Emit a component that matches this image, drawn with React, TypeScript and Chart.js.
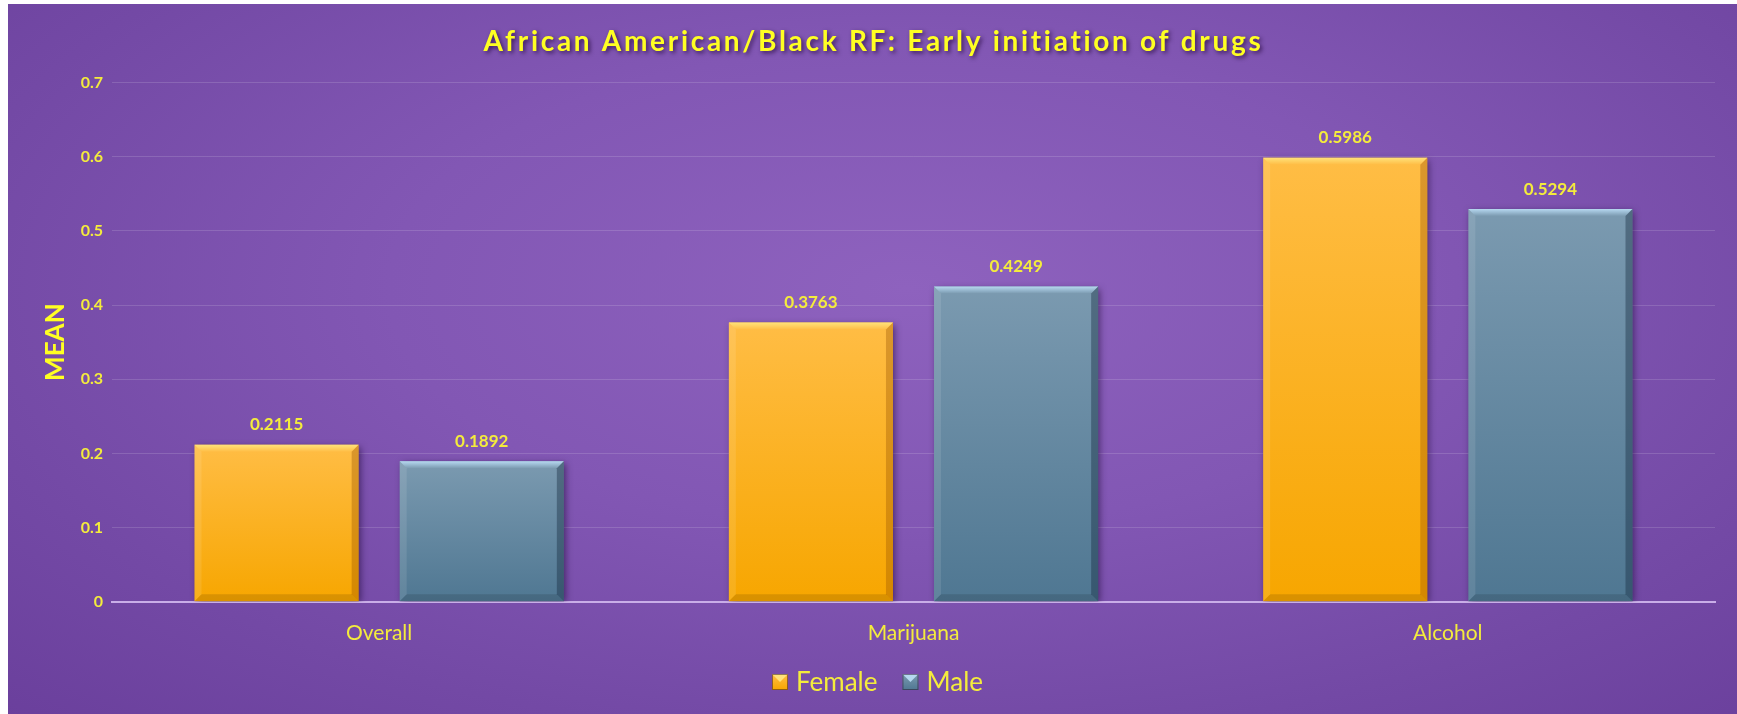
import React, { useEffect, useRef } from 'react';
import { Chart, registerables } from 'chart.js';

Chart.register(...registerables);

const titleText = 'African American/Black RF: Early initiation of drugs';
const yAxisTitle = 'MEAN';
const categories = ['Overall', 'Marijuana', 'Alcohol'];
const seriesNames = ['Female', 'Male'];
const femaleValues = [0.2115, 0.3763, 0.5986];
const maleValues = [0.1892, 0.4249, 0.5294];
const yMin = 0;
const yMax = 0.7;
const yStep = 0.1;

const palettes = [
  { top: '#ffbd45', bottom: '#f7a600', light: '#ffe27a', dark: 'rgba(150,80,0,0.35)' },
  { top: '#7b9ab0', bottom: '#4f7792', light: '#b6d8f0', dark: 'rgba(20,40,60,0.4)' },
];

const YELLOW = '#f4ec3c';
const TITLE_YELLOW = '#ffff22';
const FONT = 'Lato, "Open Sans", sans-serif';

function barGradient(chart: any, yTop: number, yBottom: number, p: any) {
  if (!isFinite(yTop) || !isFinite(yBottom) || yTop === yBottom) return p.top;
  const g = chart.ctx.createLinearGradient(0, yTop, 0, yBottom);
  g.addColorStop(0, p.top);
  g.addColorStop(1, p.bottom);
  return g;
}

const bevelPlugin = {
  id: 'bevel',
  beforeDatasetDraw(chart: any) {
    const c = chart.ctx;
    c.save();
    c.shadowColor = 'rgba(20,0,40,0.55)';
    c.shadowBlur = 7;
    c.shadowOffsetX = 2;
    c.shadowOffsetY = 2;
  },
  afterDatasetDraw(chart: any, args: any) {
    const c = chart.ctx;
    c.restore();
    const meta = chart.getDatasetMeta(args.index);
    const p = palettes[args.index];
    meta.data.forEach((el: any) => {
      const { x, y, base, width } = el.getProps(['x', 'y', 'base', 'width'], true);
      if (![x, y, base, width].every((v) => isFinite(v))) return;
      const l = x - width / 2;
      const r = x + width / 2;
      const b = 7;
      c.save();
      const tg = c.createLinearGradient(0, y, 0, y + b);
      tg.addColorStop(0, p.light);
      tg.addColorStop(1, p.top);
      c.fillStyle = tg;
      c.beginPath();
      c.moveTo(l, y);
      c.lineTo(r, y);
      c.lineTo(r - b, y + b);
      c.lineTo(l + b, y + b);
      c.closePath();
      c.fill();
      c.fillStyle = 'rgba(255,255,255,0.10)';
      c.beginPath();
      c.moveTo(l, y);
      c.lineTo(l + b, y + b);
      c.lineTo(l + b, base - b);
      c.lineTo(l, base);
      c.closePath();
      c.fill();
      c.fillStyle = p.dark;
      c.beginPath();
      c.moveTo(r, y);
      c.lineTo(r - b, y + b);
      c.lineTo(r - b, base - b);
      c.lineTo(r, base);
      c.closePath();
      c.fill();
      c.fillStyle = 'rgba(0,0,0,0.12)';
      c.beginPath();
      c.moveTo(l, base);
      c.lineTo(l + b, base - b);
      c.lineTo(r - b, base - b);
      c.lineTo(r, base);
      c.closePath();
      c.fill();
      c.restore();
    });
  },
};

const labelsPlugin = {
  id: 'valueLabels',
  afterDatasetsDraw(chart: any) {
    const c = chart.ctx;
    c.save();
    c.font = `bold 17px ${FONT}`;
    c.fillStyle = YELLOW;
    c.textAlign = 'center';
    c.textBaseline = 'middle';
    chart.data.datasets.forEach((ds: any, i: number) => {
      const meta = chart.getDatasetMeta(i);
      meta.data.forEach((el: any, j: number) => {
        const { x, y } = el.getProps(['x', 'y'], true);
        c.fillText(ds.data[j].toFixed(4), x, y - 20);
      });
    });
    c.restore();
  },
};

const titleLegendPlugin = {
  id: 'titleLegend',
  afterDraw(chart: any) {
    const c = chart.ctx;
    const w = chart.width;
    c.save();
    c.font = `bold 28px ${FONT}`;
    (c as any).letterSpacing = '2.7px';
    c.textAlign = 'center';
    c.textBaseline = 'middle';
    c.shadowColor = 'rgba(30,0,50,0.7)';
    c.shadowBlur = 4;
    c.shadowOffsetX = 2;
    c.shadowOffsetY = 2;
    c.fillStyle = TITLE_YELLOW;
    c.fillText(titleText, w / 2 + 1, 38);
    c.restore();

    c.save();
    c.font = `26px ${FONT}`;
    c.textBaseline = 'middle';
    const box = 16;
    const gapText = 8;
    const gapItem = 25;
    const items = chart.data.datasets.map((ds: any) => ds.label);
    const widths = items.map((t: string) => box + gapText + c.measureText(t).width);
    const total = widths.reduce((a: number, b: number) => a + b, 0) + gapItem * (items.length - 1);
    let x = w / 2 + 5 - total / 2;
    const cy = 678;
    items.forEach((t: string, i: number) => {
      const p = palettes[i];
      const g = c.createLinearGradient(0, cy - box / 2, 0, cy + box / 2);
      g.addColorStop(0, p.top);
      g.addColorStop(1, p.bottom);
      c.fillStyle = g;
      c.fillRect(x, cy - box / 2, box, box);
      c.fillStyle = p.light;
      c.beginPath();
      c.moveTo(x, cy - box / 2);
      c.lineTo(x + box, cy - box / 2);
      c.lineTo(x + box / 2, cy);
      c.closePath();
      c.fill();
      c.strokeStyle = 'rgba(40,20,40,0.5)';
      c.lineWidth = 1;
      c.strokeRect(x + 0.5, cy - box / 2 + 0.5, box - 1, box - 1);
      c.fillStyle = YELLOW;
      c.fillText(t, x + box + gapText, cy + 1);
      x += widths[i] + gapItem;
    });
    c.restore();
  },
};

export default function App() {
  const ref = useRef<HTMLCanvasElement | null>(null);
  useEffect(() => {
    if (!ref.current) return;
    const valuesList = [femaleValues, maleValues];
    const chart = new Chart(ref.current, {
      type: 'bar',
      data: {
        labels: categories,
        datasets: seriesNames.map((name, i) => ({
          label: name,
          data: valuesList[i],
          backgroundColor: (ctx: any) => {
            const ch = ctx.chart;
            const ys = ch.scales && ch.scales.y;
            if (!ys || !ch.chartArea || typeof ctx.raw !== 'number') return palettes[i].top;
            return barGradient(ch, ys.getPixelForValue(ctx.raw), ys.getPixelForValue(0), palettes[i]);
          },
          borderWidth: 0,
          categoryPercentage: 0.768,
          barPercentage: 0.8,
        })),
      },
      options: {
        responsive: false,
        animation: false,
        layout: { padding: { top: 78.5, right: 22, left: 0, bottom: 0 } },
        plugins: {
          legend: { display: false },
          title: { display: false },
          tooltip: { enabled: false },
        },
        scales: {
          x: {
            grid: { display: false, drawTicks: false },
            border: { display: true, color: '#c9aee8', width: 2 },
            ticks: {
              color: YELLOW,
              font: { family: FONT, size: 21 },
              padding: 19,
            },
            afterFit: (s: any) => {
              s.height = 112.3;
            },
          },
          y: {
            min: yMin,
            max: yMax,
            ticks: {
              stepSize: yStep,
              color: YELLOW,
              font: { family: FONT, size: 16, weight: 'bold' },
              padding: 9,
              callback: (v: any) => String(Math.round(Number(v) * 10) / 10),
            },
            grid: { color: 'rgba(255,255,255,0.14)', lineWidth: 1, drawTicks: false },
            border: { display: false },
            title: {
              display: true,
              text: yAxisTitle,
              color: TITLE_YELLOW,
              font: { family: FONT, size: 26, weight: 'bold' },
              padding: { top: 32, bottom: 0 },
            },
            afterFit: (s: any) => {
              s.width = 104;
            },
          },
        },
      },
      plugins: [bevelPlugin, labelsPlugin, titleLegendPlugin],
    });
    return () => chart.destroy();
  }, []);

  return (
    <div
      style={{
        position: 'absolute',
        top: 4,
        left: 8,
        width: 1729,
        height: 710,
        background:
          'radial-gradient(ellipse 75% 85% at 52% 40%, #8e62be 0%, #8257b4 40%, #7349a5 75%, #6a3f9c 100%)',
      }}
    >
      <canvas ref={ref} width={1729} height={710} style={{ display: 'block' }} />
    </div>
  );
}
